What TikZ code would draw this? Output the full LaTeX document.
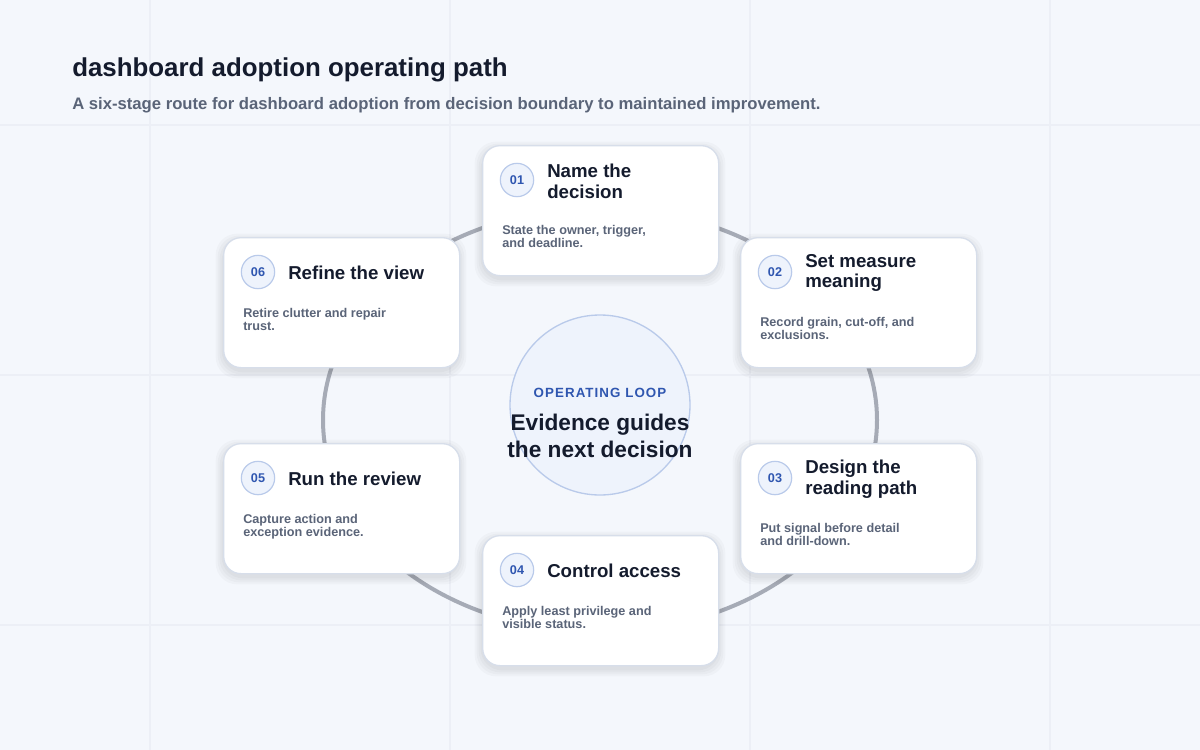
\documentclass[tikz,border=0pt]{standalone}
\usepackage{fontspec}
\setmainfont{Liberation Sans}
\definecolor{bg}{HTML}{F4F7FC}
\definecolor{grid}{HTML}{ECEFF6}
\definecolor{ink}{HTML}{141B2D}
\definecolor{sub}{HTML}{5A6478}
\definecolor{ring}{HTML}{A6ABB6}
\definecolor{cardline}{HTML}{D7DEEA}
\definecolor{accent}{HTML}{2F56B0}
\definecolor{numfill}{HTML}{EEF3FC}
\definecolor{numline}{HTML}{B9CAEA}
\tikzset{
  card/.style={draw=cardline, line width=1pt, fill=white, rounded corners=13pt,
    minimum width=177pt, minimum height=97.5pt, inner sep=0pt},
  shd/.style={fill=black, fill opacity=0.025, rounded corners=16pt, minimum width=177pt+#1, minimum height=97.5pt+#1, inner sep=0pt},
  num/.style={circle, draw=numline, line width=0.9pt, fill=numfill, minimum size=25pt, inner sep=0pt,
    font=\fontsize{9.5}{10}\selectfont\bfseries, text=accent},
  ttl/.style={anchor=west, align=left, inner sep=0pt, font=\fontsize{14}{15.5}\selectfont\bfseries, text=ink},
  dsc/.style={anchor=north west, align=left, inner sep=0pt, font=\fontsize{9.5}{9.5}\selectfont\bfseries, text=sub},
}
\begin{document}
\begin{tikzpicture}[x=0.75pt,y=-0.75pt]
\fill[bg] (0,0) rectangle (1200,750);
\useasboundingbox (0,0) rectangle (1200,750);
\foreach \x in {150,450,750,1050} \draw[grid, line width=0.8pt] (\x,0) -- (\x,750);
\foreach \y in {125,375,625} \draw[grid, line width=0.8pt] (0,\y) -- (1200,\y);
\node[anchor=west, inner sep=0pt, font=\fontsize{19.4}{21}\selectfont\bfseries, text=ink] (title) at (72,70) {dashboard adoption operating path};
\node[anchor=west, inner sep=0pt, font=\fontsize{12.5}{13}\selectfont\bfseries, text=sub] (subtitle) at (72,105) {A six-stage route for dashboard adoption from decision boundary to maintained improvement.};
\draw[ring, line width=3pt] (600,420) ellipse [x radius=277, y radius=212];
\node[circle, draw=numline, line width=1pt, fill=numfill, minimum size=135pt] (core) at (600,405) {};
\node[font=\fontsize{10}{11}\selectfont\bfseries\addfontfeature{LetterSpace=8}, text=accent] (loop) at (600,393) {OPERATING LOOP};
\node[align=center, font=\fontsize{17}{20}\selectfont\bfseries, text=ink] (ev) at (600,436) {Evidence guides\\the next decision};
\foreach \n/\cx/\cy/\k/\t/\dy/\d in {
  c1/482/145/01/{Name the\\decision}/83/{State the owner, trigger,\\and deadline.},
  c2/740/237/02/{Set measure\\meaning}/83/{Record grain, cut-off, and\\exclusions.},
  c3/740/443/03/{Design the\\reading path}/83/{Put signal before detail\\and drill-down.},
  c4/482/535/04/{Control access}/74/{Apply least privilege and\\visible status.},
  c5/223/443/05/{Run the review}/74/{Capture action and\\exception evidence.},
  c6/223/237/06/{Refine the view}/74/{Retire clutter and repair\\trust.}}{
  \foreach \s in {2,5,8,11}
    \node[shd=\s pt] at (\cx+118,\cy+69) {};
  \node[card, anchor=north west] (\n) at (\cx,\cy) {};
  \node[num] (\n n) at ([shift={(35,35)}]\n.north west) {\k};
  \node[ttl] (\n t) at ([shift={(30,1)}]\n n.center) {\t};
  \node[dsc] (\n d) at ([shift={(20,\dy-3)}]\n.north west) {\d};
}
\end{tikzpicture}
\end{document}
